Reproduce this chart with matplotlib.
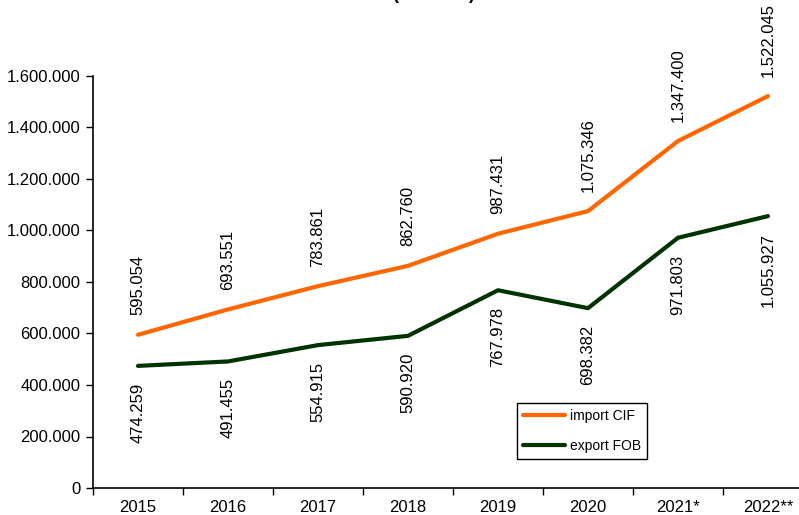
import numpy as np
import matplotlib
matplotlib.use('Agg')
import matplotlib.pyplot as plt
from matplotlib.ticker import FuncFormatter

years = ['2015', '2016', '2017', '2018', '2019', '2020', '2021*', '2022**']
import_cif = [595054, 693551, 783861, 862760, 987431, 1075346, 1347400, 1522045]
export_fob = [474259, 491455, 554915, 590920, 767978, 698382, 971803, 1055927]

def dots(v):
    return '{:,}'.format(int(v)).replace(',', '.')

matplotlib.rcParams['font.family'] = ['Liberation Sans', 'DejaVu Sans']
matplotlib.rcParams['font.size'] = 12

W, H = 799, 515
fig = plt.figure(figsize=(W/100, H/100), dpi=100)
# axes run past the right edge, as in the cropped original
ax = fig.add_axes([93/W, (H-488)/H, 720/W, 412/H])

x = np.arange(len(years))
ax.plot(x, import_cif, color='#ff6600', lw=3, label='import CIF', solid_capstyle='round')
ax.plot(x, export_fob, color='#003300', lw=3, label='export FOB', solid_capstyle='round')

for xi, v in zip(x, import_cif):
    ax.annotate(dots(v), (xi, v), xytext=(0, 14), textcoords='offset points',
                rotation=90, ha='center', va='bottom', fontsize=12)
for xi, v in zip(x, export_fob):
    ax.annotate(dots(v), (xi, v), xytext=(0, -12), textcoords='offset points',
                rotation=90, ha='center', va='top', fontsize=12)

ax.set_xlim(-0.5, len(years) - 0.5)
ax.set_ylim(0, 1600000)
ax.set_yticks(np.arange(0, 1600001, 200000))
ax.yaxis.set_major_formatter(FuncFormatter(lambda v, p: dots(v)))
ax.tick_params(axis='y', length=5, width=1, pad=4)

# ticks between categories, labels in the middle
ax.set_xticks(np.arange(-0.5, len(years), 1))
ax.set_xticklabels([])
ax.set_xticks(x, minor=True)
ax.set_xticklabels(years, minor=True)
ax.tick_params(axis='x', which='major', length=5, width=1)
ax.tick_params(axis='x', which='minor', length=0, pad=9)

for s in ['top', 'right']:
    ax.spines[s].set_visible(False)
for s in ['left', 'bottom']:
    ax.spines[s].set_linewidth(1.2)

leg = ax.legend(loc='upper left', bbox_to_anchor=(517/W, (H-403)/H),
                bbox_transform=fig.transFigure, borderaxespad=0, fancybox=False,
                framealpha=1, edgecolor='black', fontsize=10, handlelength=3.0,
                labelspacing=1.1, borderpad=0.45, handletextpad=0.35)
leg.get_frame().set_linewidth(1)

fig.text(0.5, (H+1)/H, 'Valoare (mii euro)', ha='center', va='baseline',
         fontsize=13, fontweight='bold')

fig.savefig('out.png', dpi=100)
